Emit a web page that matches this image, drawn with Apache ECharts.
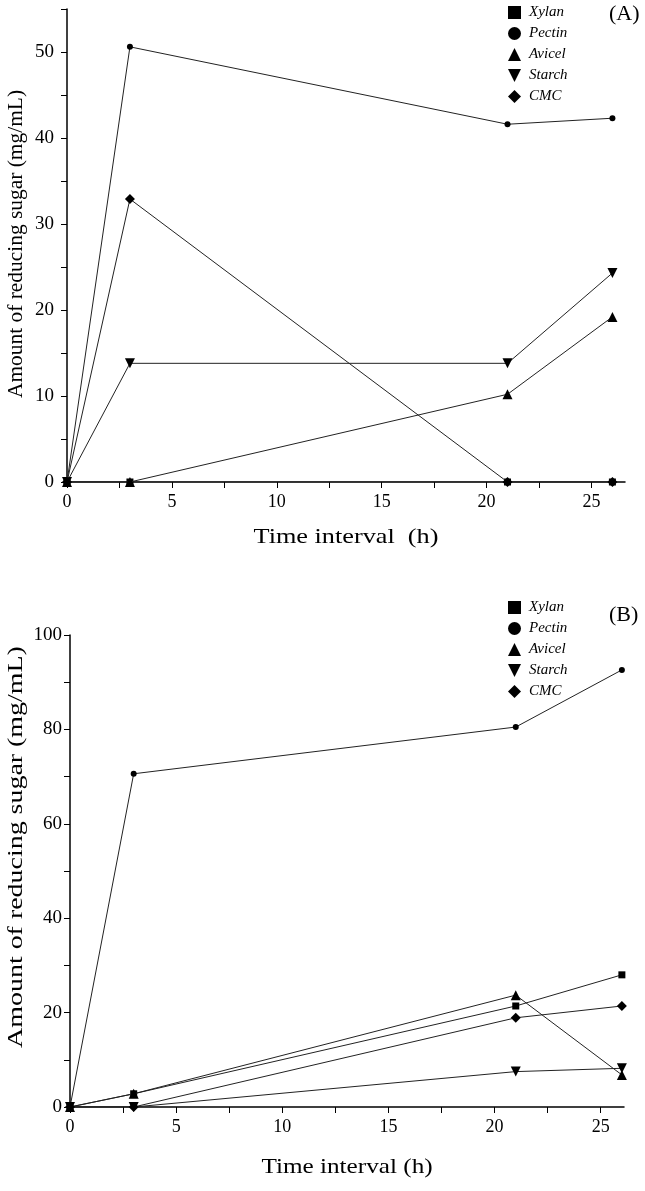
<!DOCTYPE html>
<html>
<head>
<meta charset="utf-8">
<script src="https://cdn.jsdelivr.net/npm/echarts@6/dist/echarts.min.js"></script>
<style>
html,body{margin:0;padding:0;background:#fff;}
#chart{width:645px;height:1191px;}
</style>
</head>
<body>
<div id="chart"></div>
<script>
// ---- data ----
const times = [0, 3, 21, 26];
const seriesNames = ['Xylan', 'Pectin', 'Avicel', 'Starch', 'CMC'];
// Panel (A)
const xylanA  = [0, 0, 0, 0];
const pectinA = [0, 50.6, 41.6, 42.3];
const avicelA = [0, 0, 10.2, 19.2];
const starchA = [0, 13.8, 13.8, 24.3];
const cmcA    = [0, 32.9, 0, 0];
// Panel (B)
const xylanB  = [0, 2.8, 21.4, 28];
const pectinB = [0, 70.6, 80.5, 92.6];
const avicelB = [0, 2.8, 23.7, 6.8];
const starchB = [0, 0, 7.5, 8.2];
const cmcB    = [0, 0, 18.9, 21.4];
const panelLabels = ['(A)', '(B)'];
const xTitles = ['Time interval  (h)', 'Time interval (h)'];
const yTitle = 'Amount of reducing sugar (mg/mL)';

// ---- styling ----
const FONT = '"Liberation Serif","DejaVu Serif",serif';
const downTri = 'path://M0,0 L10,0 L5,10 Z';
const diamond = 'path://M5,0 L10,5 L5,10 L0,5 Z';
const symbols = ['rect', 'circle', 'triangle', downTri, diamond];
const symSizes = [7, 6, 10, 10, 10];
const legendIcons = ['rect', 'circle', 'triangle', downTri, diamond];

function pairs(vals) { return times.map((t, i) => [t, vals[i]]); }

const dataA = [xylanA, pectinA, avicelA, starchA, cmcA];
const dataB = [xylanB, pectinB, avicelB, starchB, cmcB];

const series = [];
[dataA, dataB].forEach((set, gi) => {
  set.forEach((vals, si) => {
    series.push({
      name: seriesNames[si],
      type: 'line',
      xAxisIndex: gi, yAxisIndex: gi,
      data: pairs(vals),
      symbol: symbols[si],
      symbolSize: symSizes[si],
      showAllSymbol: true,
      lineStyle: { color: '#222', width: 1 },
      itemStyle: { color: '#000' },
      z: 2 + si,
      animation: false
    });
  });
});

function xAxis(gi, max) {
  return {
    type: 'value', gridIndex: gi, min: 0, max: max, interval: 2.5,
    axisLine: { lineStyle: { color: '#000', width: 1.5 } },
    axisTick: { show: true, length: 6, lineStyle: { color: '#000' } },
    axisLabel: {
      fontFamily: FONT, fontSize: 18, color: '#000', margin: 11,
      showMaxLabel: false,
      formatter: v => (Math.abs(v % 5) < 1e-9 ? String(v) : '')
    },
    splitLine: { show: false }
  };
}
function yAxis(gi, max, step, labelStep) {
  return {
    type: 'value', gridIndex: gi, min: 0, max: max, interval: step,
    axisLine: { show: true, lineStyle: { color: '#000', width: 1.5 } },
    axisTick: { show: true, length: 6, lineStyle: { color: '#000' } },
    axisLabel: {
      fontFamily: FONT, fontSize: 19, color: '#000', margin: gi === 0 ? 13 : 8,
      formatter: v => (Math.abs(v % labelStep) < 1e-9 && v <= max - (gi === 0 ? 5 : 0) ? String(v) : '')
    },
    splitLine: { show: false }
  };
}

function legend(top) {
  return {
    orient: 'vertical', left: 503, top: top,
    itemWidth: 13, itemHeight: 13, itemGap: 6,
    data: seriesNames.map((n, i) => ({ name: n, icon: legendIcons[i] })),
    itemStyle: { color: '#000' },
    textStyle: { fontFamily: FONT, fontSize: 15, fontStyle: 'italic', color: '#000', padding: [0, 0, 0, 3] },
    selectedMode: false
  };
}

function label(text, x, y, rot, sx) {
  return {
    type: 'text', x: x, y: y, rotation: rot, scaleX: sx, scaleY: 1,
    style: { text: text, x: 0, y: 0, align: 'center', verticalAlign: 'middle', font: '21px ' + FONT, fill: '#000' }
  };
}

const option = {
  backgroundColor: '#fff',
  animation: false,
  title: [
    { text: panelLabels[0], left: 604, top: -2, textStyle: { fontFamily: FONT, fontSize: 22, fontWeight: 'normal', color: '#000' } },
    { text: panelLabels[1], left: 604, top: 599, textStyle: { fontFamily: FONT, fontSize: 22, fontWeight: 'normal', color: '#000' } }
  ],
  legend: [legend(0), legend(595)],
  grid: [
    { left: 67, right: 20, top: 9, height: 473 },
    { left: 70, right: 21, top: 635, height: 472 }
  ],
  xAxis: [xAxis(0, 26.6), xAxis(1, 26.1)],
  yAxis: [yAxis(0, 55, 5, 10), yAxis(1, 100, 10, 20)],
  graphic: [
    label(yTitle, 16, 244, Math.PI / 2, 1.02),
    label(yTitle, 16, 847, Math.PI / 2, 1.33),
    label(xTitles[0], 346, 537, 0, 1.25),
    label(xTitles[1], 347, 1167, 0, 1.2)
  ],
  series: series
};

const chart = echarts.init(document.getElementById('chart'), null, { renderer: 'canvas' });
chart.setOption(option);
</script>
</body>
</html>
